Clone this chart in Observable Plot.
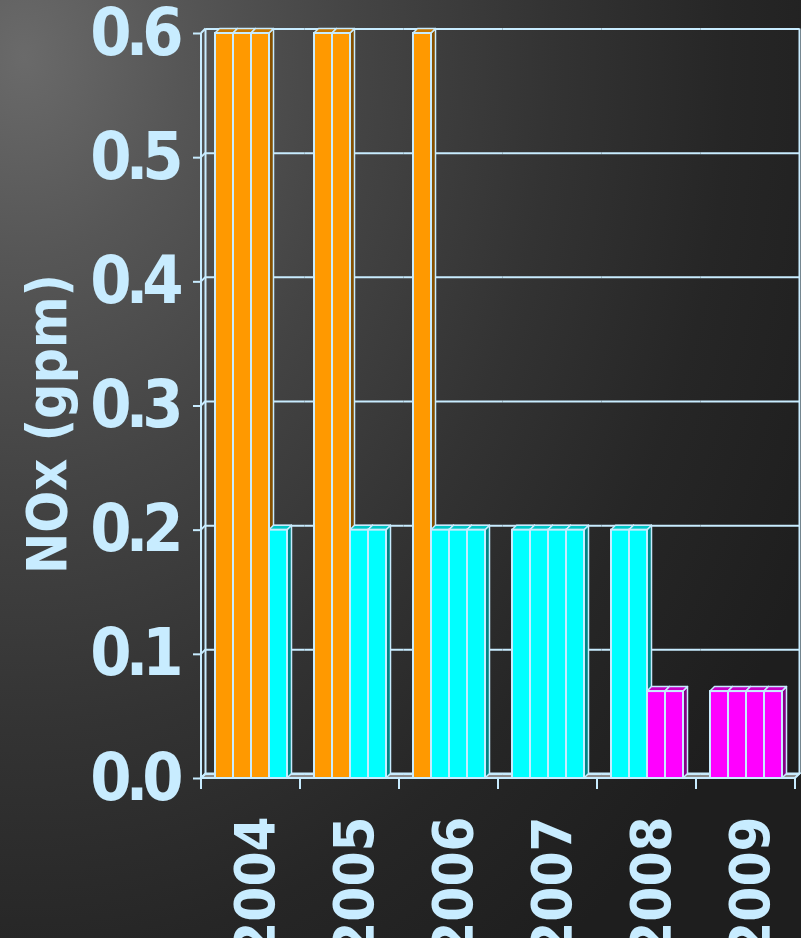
<!DOCTYPE html>
<html><head><meta charset="utf-8">
<script src="https://cdn.jsdelivr.net/npm/d3@7"></script>
<script src="https://cdn.jsdelivr.net/npm/@observablehq/plot@0.6"></script>
<style>
html,body{margin:0;padding:0;}
body{width:801px;height:938px;overflow:hidden;
background:radial-gradient(ellipse 110% 120% at 3% 6%, #6a6a6a 0%, #565656 18%, #444 38%, #333 60%, #262626 80%, #1e1e1e 100%);}
</style></head><body><div id="chart"></div>
<script>
const years = ["2004","2005","2006","2007","2008","2009"];
const slots = [1,2,3,4];
const values2004 = [0.6, 0.6, 0.6, 0.2];
const values2005 = [0.6, 0.6, 0.2, 0.2];
const values2006 = [0.6, 0.2, 0.2, 0.2];
const values2007 = [0.2, 0.2, 0.2, 0.2];
const values2008 = [0.2, 0.2, 0.07, 0.07];
const values2009 = [0.07, 0.07, 0.07, 0.07];
const levels = [0.6, 0.2, 0.07];
const levelColors = ["#ff9900", "#00ffff", "#ff00ff"];
const yTicks = [0, 0.1, 0.2, 0.3, 0.4, 0.5, 0.6];
const yLabel = "NOx (gpm)";

const valuesByYear = [values2004, values2005, values2006, values2007, values2008, values2009];
const data = years.flatMap((year, i) => valuesByYear[i].map((value, j) => ({year, slot: slots[j], value})));

const LB = "#c8ecff";
const D = 4.5;
const FONT = '"DejaVu Sans Condensed", "DejaVu Sans", sans-serif';

const chart = Plot.plot({
  width: 801, height: 938,
  marginLeft: 200, marginRight: 6, marginTop: 33, marginBottom: 160,
  style: {background: "transparent", fontFamily: FONT, fontWeight: "bold", fontStretch: "condensed", color: LB, overflow: "visible"},
  fx: {domain: years, padding: 0, axis: null},
  x: {domain: slots, paddingInner: 0, paddingOuter: 0.62, axis: null},
  y: {domain: [0, 0.6], axis: null},
  color: {type: "ordinal", domain: levels, range: levelColors},
  marks: [
    Plot.ruleY(yTicks, {dx: D, dy: -D, stroke: LB, strokeWidth: 2}),
    Plot.barY(data, {fx: "year", x: "slot", y: "value", fill: "value", stroke: LB, strokeWidth: 2}),
    Plot.axisY(yTicks, {tickFormat: d3.format(".1f"), tickSize: 8, tickPadding: 16, color: LB, strokeWidth: 2, fontSize: 66, fontWeight: "bold", label: null, ariaLabel: "y-axis"}),
    Plot.text(years, {fx: d => d, text: d => d, frameAnchor: "bottom", rotate: -90, textAnchor: "end", lineAnchor: "middle", dx: 5, dy: 38, fontSize: 56, fontWeight: "bold", fill: LB, ariaLabel: "year-labels"}),
    Plot.text([yLabel], {fx: () => years[0], text: d => d, frameAnchor: "left", rotate: -90, textAnchor: "middle", lineAnchor: "middle", dx: -153, dy: 18, fontSize: 55, fontWeight: "bold", fill: LB})
  ]
});
document.getElementById("chart").appendChild(chart);

// narrower digits, like the reference's condensed type
d3.select(chart).selectAll('g[aria-label="y-axis tick label"] text, g[aria-label="y-axis"] text').attr("letter-spacing", "-6px");
d3.select(chart).selectAll('g[aria-label="year-labels"] text').attr("letter-spacing", "-3.3px");

// 3D box chrome and bar faces, positioned through Plot's own scales
const svgns = "http://www.w3.org/2000/svg";
const svg = d3.select(chart);
const y = chart.scale("y"), fx = chart.scale("fx");
const L = fx.apply(years[0]), R = fx.apply(years[years.length - 1]) + fx.bandwidth;
const Y0 = y.apply(0), Y1 = y.apply(yTicks[yTicks.length - 1]);
const chrome = svg.insert("g", "g").attr("fill", "none").attr("stroke", LB).attr("stroke-width", 2);
chrome.append("polygon").attr("points", [[L, Y0], [L + D, Y0 - D], [R + D, Y0 - D], [R, Y0]].join(" ")).attr("fill", "#8c8c8c");
const line = (a, b) => chrome.append("line").attr("x1", a[0]).attr("y1", a[1]).attr("x2", b[0]).attr("y2", b[1]);
line([L, Y0], [L, Y1]);
line([L + D, Y0 - D], [L + D, Y1 - D]);
line([R + D, Y0 - D], [R + D, Y1 - D]);
yTicks.forEach(t => line([L, y.apply(t)], [L + D, y.apply(t) - D]));
years.forEach(yr => line([fx.apply(yr), Y0], [fx.apply(yr), Y0 + 11]));
line([R, Y0], [R, Y0 + 11]);

svg.selectAll('g[aria-label="bar"] rect').each(function () {
  const r = this;
  const x0 = +r.getAttribute("x"), y0 = +r.getAttribute("y");
  const w = +r.getAttribute("width"), h = +r.getAttribute("height");
  const base = d3.rgb(r.getAttribute("fill"));
  const shade = k => d3.rgb(base.r * k, base.g * k, base.b * k).formatHex();
  const mk = (pts, fill) => {
    const p = document.createElementNS(svgns, "polygon");
    p.setAttribute("points", pts.join(" "));
    p.setAttribute("fill", fill);
    p.setAttribute("stroke", LB);
    p.setAttribute("stroke-width", 1.5);
    p.setAttribute("stroke-linejoin", "round");
    r.parentNode.insertBefore(p, r);
  };
  const xr = x0 + w, yb = y0 + h;
  mk([[xr, y0], [xr + D, y0 - D], [xr + D, yb - D], [xr, yb]], shade(0.52));
  mk([[x0, y0], [x0 + D, y0 - D], [xr + D, y0 - D], [xr, y0]], shade(0.78));
});
</script></body></html>
